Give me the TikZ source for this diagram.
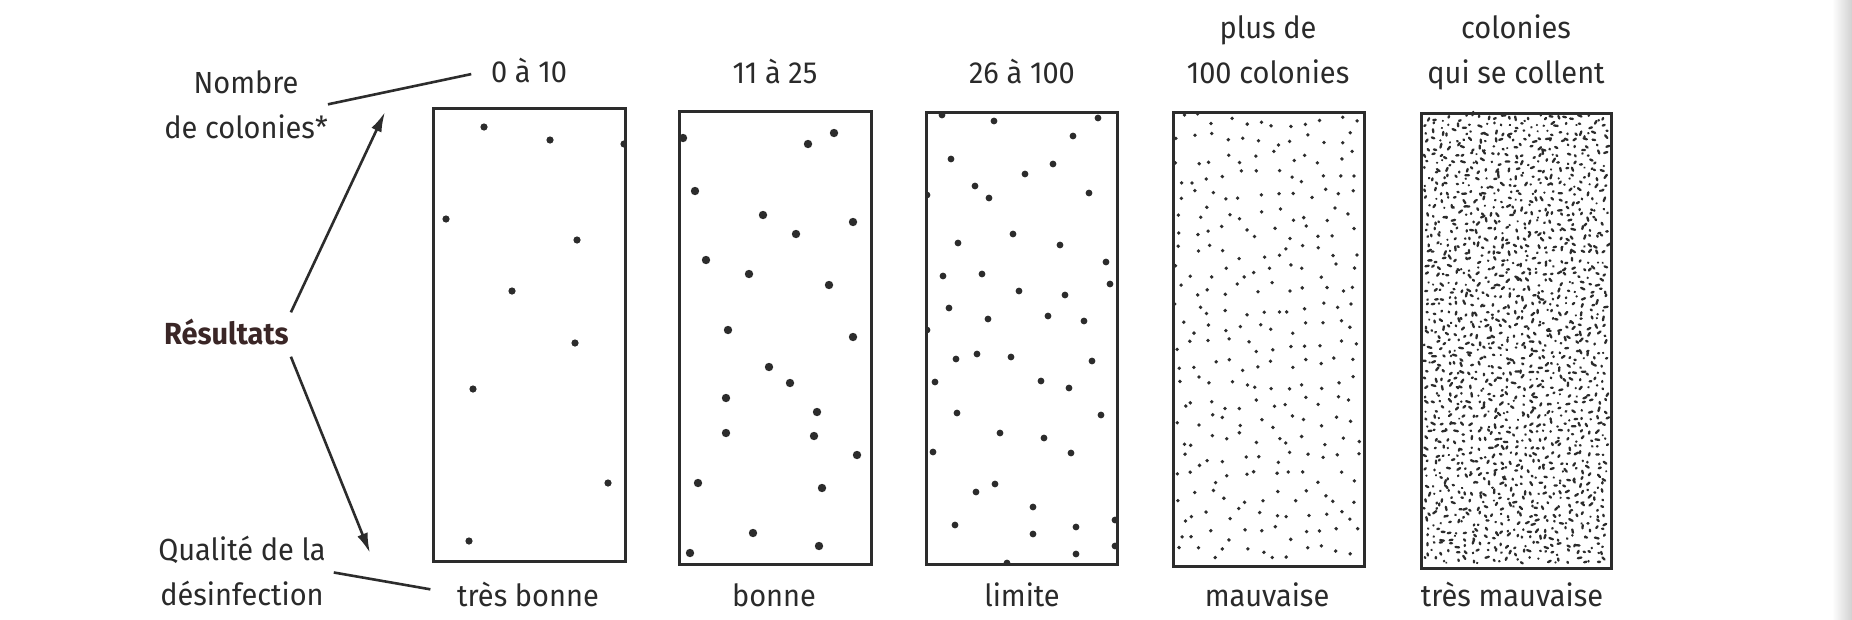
\documentclass[tikz,border=0pt]{standalone}
\usepackage{fontspec}
\setmainfont{Fira Sans}[FakeStretch=0.95]
\usetikzlibrary{arrows.meta}
\definecolor{txt}{HTML}{2A2A2A}
\definecolor{ink}{HTML}{2C2C2C}
\definecolor{resc}{HTML}{3A2626}
\begin{document}
\begin{tikzpicture}[x=1pt,y=-1pt,
  lab/.style={font=\fontsize{30.5}{45}\selectfont, text=txt, inner sep=0pt, align=center},
  box/.style={draw=ink, line width=3pt, inner sep=0pt, outer sep=0pt, fill=white},
  conn/.style={draw=ink, line width=2.6pt},
  arr/.style={conn, -{Latex[length=20pt,width=11pt]}}]
\useasboundingbox (0,0) rectangle (1852,619);
\fill[white] (0,0) rectangle (1852,619);
\shade[left color=white, right color=black!18] (1832,0) rectangle (1852,619);

% boxes
\node[box, minimum width=192pt, minimum height=453pt] (b1) at (529,334.5) {};
\node[box, minimum width=192pt, minimum height=453pt] (b2) at (775,337.5) {};
\node[box, minimum width=191pt, minimum height=452pt] (b3) at (1021.5,338) {};
\node[box, minimum width=191pt, minimum height=454pt] (b4) at (1268.5,339) {};
\node[box, minimum width=190pt, minimum height=455pt] (b5) at (1516,340.5) {};

% top labels
\node[lab, anchor=base] (t1) at (529,82) {0 à 10};
\node[lab, anchor=base] (t2) at (775,83) {11 à 25};
\node[lab, anchor=base] (t3) at (1022,83) {26 à 100};
\node[lab, anchor=north] (t4) at (1268,15) {plus de\\100 colonies};
\node[lab, anchor=north] (t5) at (1516,15) {colonies\\qui se collent};

% bottom labels
\node[lab, anchor=base] (q1) at (528,606) {très bonne};
\node[lab, anchor=base] (q2) at (774,606) {bonne};
\node[lab, anchor=base] (q3) at (1022,606) {limite};
\node[lab, anchor=base] (q4) at (1267,606) {mauvaise};
\node[lab, anchor=base] (q5) at (1512,606) {très mauvaise};

% left labels
\node[lab, anchor=north] (nb) at (246,70) {Nombre\\de colonies*};
\node[lab, anchor=base west, font=\fontsize{30.5}{45}\selectfont\bfseries, text=resc] (res) at (164,344) {Résultats};
\node[lab, anchor=north] (qd) at (242,536) {Qualité de la\\désinfection};

\coordinate (upT) at (385,112);
\coordinate (dnT) at (370,553);

% connectors
\draw[conn, shorten >=20pt] (nb.east) -- (t1.west);
\draw[arr] ([shift={(2,-6)}]res.north east) -- (upT);
\draw[arr] ([shift={(2,12)}]res.south east) -- (dnT);
\draw[conn, shorten <=8pt, shorten >=27pt] (qd.east) -- (q1.west);

% box 1 dots
\foreach \p in {(484,127),(550,140),(446,219),(577,240),(512,291),(575,343),(473,389),(608,483),(469,541)}
  \fill[ink] \p circle (3.6pt);
\begin{scope}
\clip (b1.south west) rectangle (b1.north east);
\fill[ink] (624,144) circle (3.6pt);
\end{scope}

% box 2 dots
\foreach \p in {(683,138),(808,144),(834,133),(695,191),(763,215),(853,222),(796,234),(706,260),(749,274),(829,285),(728,330),(853,337),(769,367),(790,383),(726,398),(817,412),(726,433),(814,436),(857,455),(698,483),(822,488),(753,533),(819,546),(690,553)}
  \fill[ink] \p circle (4.2pt);

% box 3 dots
\begin{scope}
\clip (b3.south west) rectangle (b3.north east);
\foreach \p in {(942,115),(994,121),(1098,118),(1073,136),(951,159),(1053,164),(1025,174),(975,186),(989,198),(1089,193),(927,195),(1013,234),(958,243),(1060,245),(1106,262),(943,276),(982,274),(1110,284),(1019,291),(1065,295),(949,308),(988,319),(1048,316),(1084,321),(927,330),(956,359),(977,354),(1011,357),(1092,361),(935,382),(1041,381),(1069,388),(957,413),(1101,415),(1000,433),(1044,438),(933,452),(1071,453),(995,484),(976,492),(1033,507),(955,525),(1033,534),(1076,527),(1076,554),(1007,563),(1115,520),(1115,546)}
  \fill[ink] \p circle (3.4pt);
\end{scope}

% box 4 dots
\pgfmathsetseed{7}
\foreach \c in {0,...,11}{\foreach \r in {0,...,23}{
  \pgfmathsetmacro\rx{1180+\c*15.8+(rnd-0.5)*12}
  \pgfmathsetmacro\ry{120+\r*18.8+(rnd-0.5)*14}
  \fill[ink] (\rx,\ry) circle (1.9pt);
}}

% box 5 marks
\pgfmathsetseed{11}
\foreach \c in {0,...,24}{\foreach \r in {0,...,59}{
  \pgfmathsetmacro\rx{1427+\c*7.4+(rnd-0.5)*6}
  \pgfmathsetmacro\ry{118+\r*7.5+(rnd-0.5)*6}
  \pgfmathsetmacro\ra{rnd*180}
  \pgfmathsetmacro\rl{rnd*4}
  \draw[ink, line width=2.3pt, line cap=round] (\rx,\ry) -- ++(\ra:\rl pt);
}}
\end{tikzpicture}
\end{document}
